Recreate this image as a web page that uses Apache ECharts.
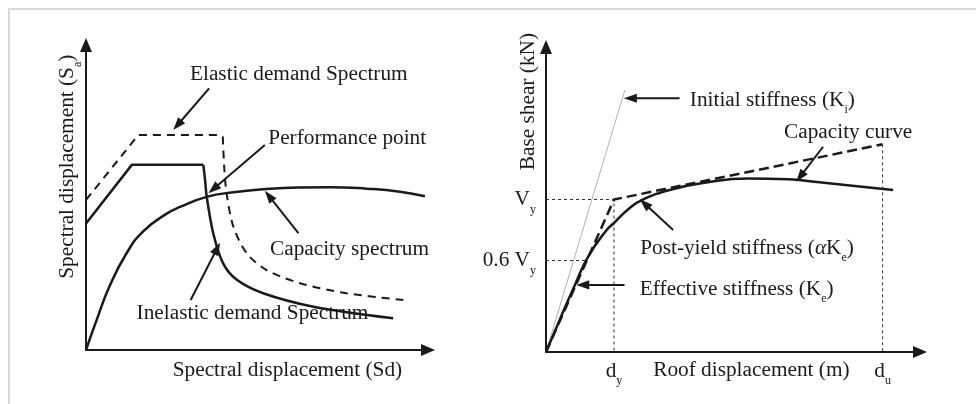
<!DOCTYPE html>
<html>
<head>
<meta charset="utf-8">
<script src="https://cdn.jsdelivr.net/npm/echarts@6/dist/echarts.min.js"></script>
<style>
  html, body { margin: 0; padding: 0; background: #ffffff; }
  #chart { width: 976px; height: 404px; }
</style>
</head>
<body>
<div id="chart"></div>
<script>
// ---------- Left panel: capacity spectrum method (Sd vs Sa, schematic units) ----------
const elasticPlateau   = [[0, 4.92], [1.53, 7.05], [3.92, 7.05], [4.0, 7.0]];
const elasticDecay     = [[4.0, 7.0], [4.04, 6.02], [4.11, 5.14], [4.31, 4.04], [4.70, 3.17],
                          [5.28, 2.62], [6.26, 2.19], [7.62, 1.86], [9.28, 1.64]];
const inelasticPlateau = [[0, 4.15], [1.34, 6.07], [3.43, 6.07]];
const inelasticDecay   = [[3.43, 6.07], [3.48, 5.6], [3.53, 5.02], [3.72, 3.83], [4.01, 2.84],
                          [4.41, 2.30], [5.18, 1.86], [6.65, 1.42], [8.98, 1.04]];
const capacitySpectrum = [[0, 0], [0.31, 0.98], [0.70, 2.12], [1.19, 3.18], [1.68, 3.90],
                          [2.36, 4.47], [2.75, 4.69], [3.53, 5.02], [4.31, 5.17], [5.18, 5.27],
                          [6.2, 5.33], [7.13, 5.34], [8.21, 5.29], [9.18, 5.19], [9.91, 5.04]];

const leftNotes   = ['Elastic demand Spectrum', 'Performance point', 'Capacity spectrum', 'Inelastic demand Spectrum'];
const leftNoteAt  = [[3.04, 9.02], [5.33, 6.94], [5.38, 3.29], [1.48, 1.20]];
const leftArrows  = [[3.60, 8.58, 2.55, 7.21], [5.23, 6.72, 3.58, 5.14],
                     [6.21, 3.83, 5.23, 5.22], [3.06, 1.64, 3.92, 3.52]];
const leftTitles  = ['Spectral displacement (Sd)', 'Spectral displacement (S{s|a})'];
const leftTitleAt = [[5.89, -0.67], [-0.54, 6.01]];

// ---------- Right panel: pushover capacity curve ----------
const Vy = 5, dy = 2, du = 9.9, Vu = 6.81;
const initialStiffness = [[0, 0], [2.32, 8.59]];
const bilinear = [[0, 0], [dy, Vy], [du, Vu]];
const capacityCurve = [[0, 0], [0.42, 1.10], [0.85, 2.20], [1.24, 3.13], [1.79, 4.01], [2.0, 4.23],
                       [2.41, 4.67], [2.80, 4.97], [3.69, 5.33], [4.67, 5.55], [5.94, 5.69],
                       [7.12, 5.66], [7.97, 5.57], [9.08, 5.44], [10.21, 5.31]];
const guideLines = [
  [[0, Vy], [dy, Vy], [dy, 0]],
  [[0, 0.6 * Vy], [0.6 * dy, 0.6 * Vy]],
  [[du, Vu], [du, 0]]
];
const yTickValues = [Vy, 0.6 * Vy];
const yTickLabels = ['V{s|y}', '0.6 V{s|y}'];
const xTickValues = [dy, du];
const xTickLabels = ['d{s|y}', 'd{s|u}'];

const rightNotes   = ['Initial stiffness (K{s|i})', 'Capacity curve', 'Post-yield stiffness ({i|α}K{s|e})', 'Effective stiffness (K{s|e})'];
const rightNoteAt  = [[4.23, 8.26], [7.0, 7.21], [2.77, 3.40], [2.76, 2.06]];
const rightArrows  = [[3.93, 8.32, 2.29, 8.32], [8.15, 6.73, 7.36, 5.58],
                      [3.74, 4.00, 2.76, 5.01], [2.31, 2.20, 0.89, 2.20]];
const rightTitles  = ['Roof displacement (m)', 'Base shear (kN)'];
const rightTitleAt = [[6.04, -0.59], [-0.53, 8.21]];

// ---------- styling ----------
const INK = '#1a1a1a';
const SERIF = '"Liberation Serif", "Times New Roman", serif';
const FS = 21.3;
const LH = 32;   // tall line box so the bottom-anchored subscripts sit well below the baseline
const RICH = {
  s: { fontSize: 12, lineHeight: 1, verticalAlign: 'bottom', fontFamily: SERIF, fill: INK, color: INK },
  i: { fontSize: FS, fontStyle: 'italic', fontFamily: SERIF, fill: INK, color: INK }
};

function axisPair(grid, xMax, yMax, xLabel, yLabel) {
  const line = { show: true, onZero: false, symbol: ['none', 'triangle'], symbolSize: [12, 14],
                 lineStyle: { color: INK, width: 2 } };
  const base = { gridIndex: grid, type: 'value', min: 0, axisLine: line,
                 axisTick: { show: false }, splitLine: { show: false } };
  return {
    x: Object.assign({}, base, { max: xMax, axisLabel: xLabel || { show: false } }),
    y: Object.assign({}, base, { max: yMax, axisLabel: yLabel || { show: false } })
  };
}

function tickLabel(values, labels, margin) {
  return {
    show: true, customValues: values, margin: margin,
    fontFamily: SERIF, fontSize: FS, color: INK, lineHeight: LH,
    formatter: function (v) {
      const k = values.findIndex(function (t) { return Math.abs(t - v) < 1e-6; });
      return k >= 0 ? labels[k] : '';
    },
    rich: RICH
  };
}

const leftAxes = axisPair(0, 10, 10);
const rightAxes = axisPair(1, 11, 10, tickLabel(xTickValues, xTickLabels, 3), tickLabel(yTickValues, yTickLabels, 10));

function curve(grid, data, style, smooth) {
  return {
    type: 'line', xAxisIndex: grid, yAxisIndex: grid, data: data,
    showSymbol: false, symbol: 'none', smooth: smooth || false,
    lineStyle: Object.assign({ color: INK, width: 2.5, cap: 'butt', join: 'round' }, style),
    silent: true, z: 3
  };
}

function arrows(grid, list) {
  return {
    type: 'custom', xAxisIndex: grid, yAxisIndex: grid, data: list, silent: true, z: 5,
    encode: { x: [0, 2], y: [1, 3] },
    renderItem: function (params, api) {
      const a = api.coord([api.value(0), api.value(1)]);
      const b = api.coord([api.value(2), api.value(3)]);
      const vx = b[0] - a[0], vy = b[1] - a[1];
      const len = Math.hypot(vx, vy);
      const ux = vx / len, uy = vy / len;
      const headLen = 13, headHalf = 4.6;
      const bx = b[0] - ux * headLen, by = b[1] - uy * headLen;
      return {
        type: 'group',
        children: [
          { type: 'line', shape: { x1: a[0], y1: a[1], x2: bx + ux * 3, y2: by + uy * 3 },
            style: { stroke: INK, lineWidth: 2 } },
          { type: 'polygon',
            shape: { points: [[b[0], b[1]], [bx - uy * headHalf, by + ux * headHalf], [bx + uy * headHalf, by - ux * headHalf]] },
            style: { fill: INK } }
        ]
      };
    }
  };
}

function texts(grid, list, anchors, align, rotations) {
  return {
    type: 'custom', xAxisIndex: grid, yAxisIndex: grid, data: anchors, silent: true, z: 6,
    encode: { x: 0, y: 1 },
    renderItem: function (params, api) {
      const p = api.coord([api.value(0), api.value(1)]);
      const rot = rotations ? rotations[params.dataIndex] : 0;
      return {
        type: 'text', x: p[0], y: p[1], rotation: rot,
        style: {
          text: list[params.dataIndex], fill: INK, fontSize: FS, fontFamily: SERIF,
          lineHeight: LH, align: align, verticalAlign: 'middle', rich: RICH
        }
      };
    }
  };
}

const series = [
  // left panel
  curve(0, elasticPlateau, { width: 2, type: [8, 6] }),
  curve(0, elasticDecay, { width: 2, type: [8, 6] }, 0.3),
  curve(0, inelasticPlateau, {}),
  curve(0, inelasticDecay, {}, 0.3),
  curve(0, capacitySpectrum, {}, 0.5),
  arrows(0, leftArrows),
  texts(0, leftNotes, leftNoteAt, 'left'),
  texts(0, leftTitles, leftTitleAt, 'center', [0, Math.PI / 2]),
  // right panel
  curve(1, initialStiffness, { width: 0.8, color: '#9c9c9c' }),
  curve(1, bilinear, { width: 2.5, type: [10, 5] }),
  curve(1, capacityCurve, {}, 0.5),
  arrows(1, rightArrows),
  texts(1, rightNotes, rightNoteAt, 'left'),
  texts(1, rightTitles, rightTitleAt, 'center', [0, Math.PI / 2])
];
guideLines.forEach(function (g) {
  series.push(curve(1, g, { width: 1, type: [3, 3], color: '#333333' }));
});

const chart = echarts.init(document.getElementById('chart'), null, { renderer: 'canvas' });
chart.setOption({
  animation: false,
  backgroundColor: '#ffffff',
  grid: [
    { left: 86, top: 45, width: 342, height: 305, outerBoundsMode: 'none', containLabel: false },
    { left: 546, top: 47, width: 374, height: 305, outerBoundsMode: 'none', containLabel: false }
  ],
  xAxis: [leftAxes.x, rightAxes.x],
  yAxis: [leftAxes.y, rightAxes.y],
  graphic: [
    { type: 'rect', silent: true, z: -1,
      shape: { x: 9, y: 9, width: 1200, height: 600 },
      style: { fill: 'none', stroke: '#d8d8d8', lineWidth: 2 } }
  ],
  series: series
});
</script>
</body>
</html>
